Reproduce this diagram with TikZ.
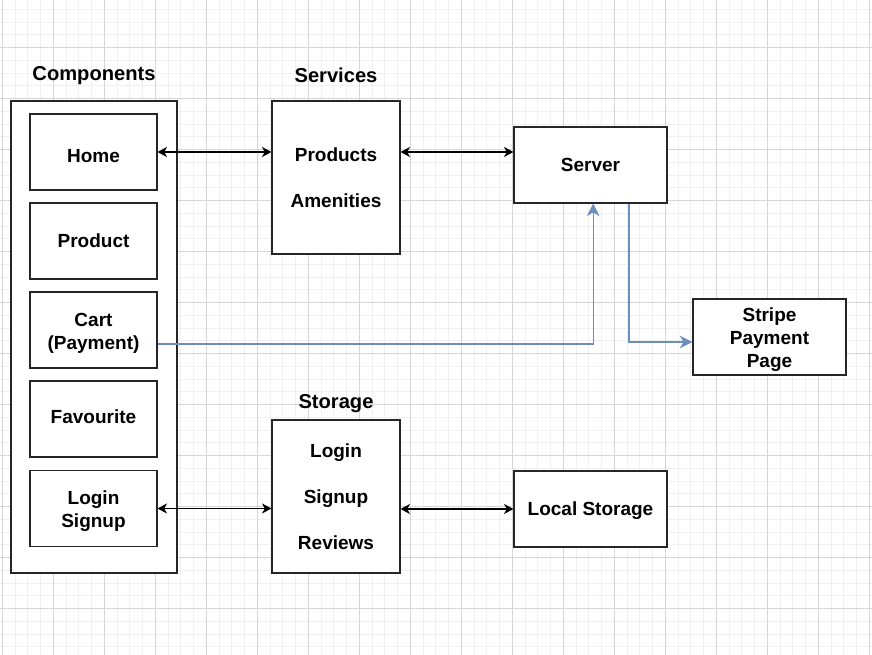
\documentclass[tikz,border=0pt]{standalone}
\usepackage{fontspec}
\setmainfont{Liberation Sans}
\usetikzlibrary{arrows.meta}

\definecolor{linkblue}{RGB}{108,142,191}
\definecolor{gridminor}{RGB}{240,240,240}
\definecolor{gridmajor}{RGB}{214,214,214}
\newcommand{\boxstrut}{\rule{0pt}{15pt}}

\tikzset{
  box/.style={draw=black!85, line width=0.9pt, fill=white, align=center,
    font=\fontsize{14.25}{17.25}\selectfont\bfseries, inner sep=0pt},
  title/.style={font=\fontsize{15.1}{18}\selectfont\bfseries},
  biarrow/.style={{Stealth[length=7pt,width=7.5pt,inset=2pt]}-{Stealth[length=7pt,width=7.5pt,inset=2pt]}, line width=0.9pt},
  bluearrow/.style={-{Stealth[length=9.5pt,width=9.5pt,inset=3pt]}, draw=linkblue, line width=0.9pt},
  minorgrid/.style={draw=gridminor, line width=0.75pt},
  majorgrid/.style={draw=gridmajor, line width=0.75pt}
}

\begin{document}
\begin{tikzpicture}[x=0.75pt,y=-0.75pt]
    % Canvas and grid
    \useasboundingbox (0,0) rectangle (872,655);
    \fill[white] (0,0) rectangle (872,655);
    \foreach \i in {0,...,68} {
      \draw[minorgrid] ({2.3+12.75*\i},0) -- ({2.3+12.75*\i},655);
    }
    \foreach \i in {0,...,52} {
      \draw[minorgrid] (0,{-3.3+12.75*\i}) -- (872,{-3.3+12.75*\i});
    }
    \foreach \i in {0,...,17} {
      \draw[majorgrid] ({2.3+51*\i},0) -- ({2.3+51*\i},655);
    }
    \foreach \i in {0,...,13} {
      \draw[majorgrid] (0,{-3.3+51*\i}) -- (872,{-3.3+51*\i});
    }

    % Titles
    \node[title] (comptitle) at (94,75.5) {Components};
    \node[title] (servtitle) at (336,75.5) {Services};
    \node[title] (stortitle) at (336,403.5) {Storage};

    % Components column
    \node[box, minimum width=124.5pt, minimum height=354pt] (comp) at (94,337) {};
    \node[box, minimum width=95.25pt, minimum height=57pt] (home) at (93.5,152) {\rule{0pt}{16.5pt}Home};
    \node[box, minimum width=95.25pt, minimum height=57pt] (product) at (93.5,241) {Product};
    \node[box, minimum width=95.25pt, minimum height=57pt] (cart) at (93.5,330) {\boxstrut Cart\\(Payment)};
    \node[box, minimum width=95.25pt, minimum height=57pt] (fav) at (93.5,419) {\rule[-3pt]{0pt}{3pt}Favourite};
    \node[box, minimum width=95.25pt, minimum height=57pt] (loginsignup) at (93.5,508.5) {\boxstrut Login\\Signup};

    % Services, server and payment
    \node[box, minimum width=96pt, minimum height=114.75pt,
      font=\fontsize{14.25}{34.5}\selectfont\bfseries] (services) at (336,177.5) {Products\\Amenities};
    \node[box, minimum width=114.75pt, minimum height=57pt] (server) at (590.5,165) {Server};
    \node[box, minimum width=114.75pt, minimum height=57pt] (stripe) at (769.5,337) {\boxstrut Stripe\\Payment\\Page};

    % Storage
    \node[box, minimum width=96pt, minimum height=114.75pt,
      font=\fontsize{14.25}{34.5}\selectfont\bfseries] (storage) at (336,496.5) {Login\\Signup\\Reviews};
    \node[box, minimum width=114.75pt, minimum height=57pt] (localstorage) at (590.5,509) {\rule{0pt}{13.3pt}Local Storage};

    % Connections
    \draw[biarrow] (home.east) -- (home.east -| services.west);
    \draw[biarrow] (services.east |- home.east) -- (server.west |- home.east);
    \draw[biarrow] (loginsignup.east) -- (loginsignup.east -| storage.west);
    \draw[biarrow] (storage.east |- localstorage.west) -- (localstorage.west);
    \draw[bluearrow] ([yshift=-10.5pt]cart.east) -| ([xshift=2pt]server.south);
    \draw[bluearrow] ([xshift=28.9pt]server.south) |- ([yshift=-3.75pt]stripe.west);
\end{tikzpicture}
\end{document}
